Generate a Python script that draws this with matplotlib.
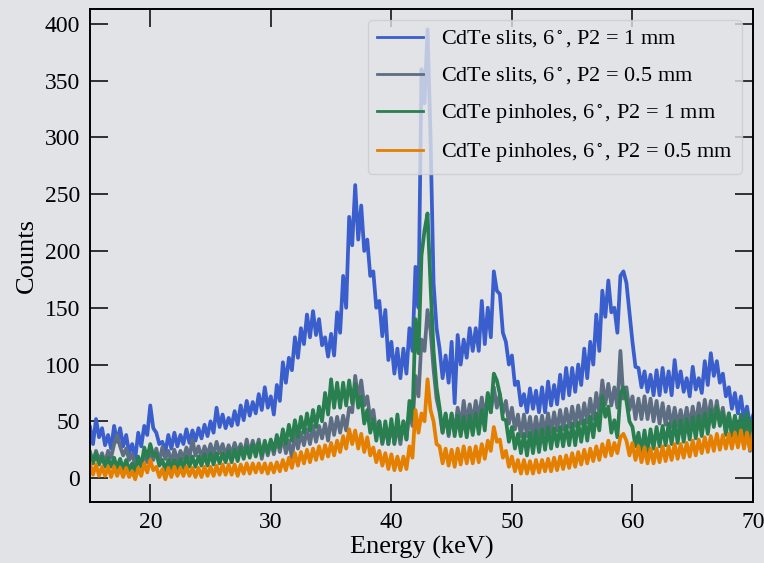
import matplotlib
matplotlib.use("Agg")
import matplotlib.pyplot as plt
import numpy as np

# channel grid (keV), 0.25 keV bins
energy = np.arange(15.0, 70.001, 0.25)

slits_1mm = [
    45, 30, 52, 36, 44, 29, 38, 26, 46, 32, 44, 28, 38, 22, 30, 17, 40, 28, 46, 38,
    64, 44, 40, 30, 32, 23, 38, 26, 40, 28, 38, 30, 43, 31, 42, 33, 44, 35, 47, 37,
    50, 40, 62, 45, 56, 44, 53, 46, 59, 47, 64, 51, 68, 55, 67, 57, 74, 60, 80, 62,
    72, 56, 82, 68, 102, 84, 106, 95, 124, 106, 132, 118, 144, 124, 147, 126, 140, 117, 124, 107,
    127, 108, 146, 128, 178, 150, 230, 205, 258, 210, 240, 200, 210, 178, 182, 150, 156, 125, 148, 104,
    120, 92, 114, 88, 114, 92, 132, 112, 186, 150, 360, 330, 395, 300, 172, 132, 114, 88, 108, 84,
    120, 66, 126, 100, 122, 106, 132, 112, 132, 112, 156, 118, 150, 124, 182, 165, 162, 128, 120, 100,
    108, 82, 85, 64, 74, 58, 79, 61, 77, 58, 80, 58, 85, 64, 82, 65, 91, 70, 97, 73,
    97, 76, 100, 82, 114, 88, 120, 100, 144, 112, 165, 142, 174, 146, 150, 128, 178, 182, 172, 146,
    120, 98, 97, 80, 94, 76, 91, 73, 95, 73, 97, 76, 94, 73, 104, 80, 94, 76, 88, 72,
    98, 78, 88, 75, 103, 82, 110, 90, 103, 84, 92, 72, 80, 61, 75, 57, 72, 52, 63, 46,
    55,
]

slits_05mm = [
    22, 14, 24, 15, 22, 13, 24, 18, 30, 38, 28, 20, 26, 16, 21, 12, 18, 11, 21, 14,
    24, 16, 26, 14, 27, 17, 24, 14, 25, 15, 24, 17, 27, 18, 34, 20, 28, 18, 28, 20,
    30, 20, 32, 22, 30, 20, 29, 21, 31, 22, 30, 20, 34, 21, 33, 23, 34, 17, 31, 20,
    33, 21, 35, 23, 37, 22, 33, 18, 39, 26, 40, 29, 43, 30, 46, 32, 46, 35, 48, 33,
    53, 38, 54, 40, 55, 42, 62, 58, 90, 70, 86, 64, 72, 52, 60, 40, 50, 30, 46, 30,
    48, 31, 46, 30, 50, 34, 60, 46, 90, 72, 122, 112, 148, 130, 96, 70, 58, 40, 56, 37,
    56, 40, 62, 46, 68, 49, 65, 49, 68, 52, 71, 53, 74, 58, 80, 62, 74, 57, 68, 48,
    62, 43, 56, 37, 56, 37, 54, 36, 54, 37, 55, 39, 57, 40, 58, 42, 60, 43, 61, 45,
    63, 46, 64, 48, 66, 49, 70, 52, 75, 56, 86, 65, 83, 64, 80, 62, 112, 70, 80, 60,
    72, 52, 70, 52, 72, 52, 70, 50, 68, 48, 66, 47, 63, 45, 62, 46, 60, 45, 62, 46,
    63, 47, 66, 50, 69, 51, 68, 50, 68, 49, 62, 44, 57, 39, 54, 34, 51, 28, 48, 24,
    44,
]

pinholes_1mm = [
    23, 13, 22, 12, 19, 10, 18, 10, 18, 9, 17, 8, 16, 7, 13, 4, 19, 10, 27, 18,
    30, 20, 22, 11, 16, 7, 16, 7, 16, 8, 17, 9, 19, 10, 19, 10, 19, 11, 21, 11,
    22, 12, 22, 13, 22, 14, 24, 14, 25, 15, 27, 17, 28, 18, 30, 19, 31, 20, 33, 22,
    34, 24, 38, 27, 43, 30, 47, 33, 51, 36, 54, 40, 57, 42, 60, 45, 63, 50, 75, 56,
    87, 62, 84, 62, 84, 64, 86, 66, 83, 62, 72, 48, 60, 40, 52, 33, 50, 31, 50, 30,
    52, 30, 56, 34, 50, 34, 68, 52, 140, 110, 196, 218, 233, 170, 112, 80, 62, 40, 57, 39,
    57, 37, 55, 37, 54, 36, 55, 38, 57, 39, 60, 42, 75, 58, 92, 86, 74, 52, 51, 32,
    45, 26, 39, 22, 39, 20, 40, 22, 42, 23, 43, 25, 45, 26, 44, 28, 45, 28, 46, 29,
    48, 29, 49, 32, 51, 33, 54, 36, 57, 42, 72, 54, 63, 40, 51, 36, 74, 80, 68, 50,
    45, 28, 40, 22, 42, 23, 43, 26, 45, 28, 46, 29, 48, 30, 50, 31, 51, 32, 52, 34,
    54, 35, 55, 37, 57, 39, 60, 45, 63, 46, 58, 38, 57, 37, 55, 38, 56, 39, 57, 40,
    52,
]

pinholes_05mm = [
    13, 3, 12, 2, 10, 2, 10, 1, 10, 2, 9, 1, 9, 1, 6, -1, 9, 2, 13, 5,
    16, 7, 10, 1, 8, -1, 9, 1, 10, 2, 9, 2, 10, 2, 9, 1, 9, 1, 10, 2,
    10, 2, 11, 3, 12, 3, 12, 3, 12, 2, 12, 4, 13, 4, 13, 5, 13, 5, 13, 4,
    13, 5, 14, 6, 16, 7, 18, 9, 22, 11, 23, 13, 25, 14, 26, 16, 28, 17, 29, 19,
    31, 20, 33, 23, 37, 26, 43, 30, 42, 26, 39, 23, 36, 20, 27, 14, 24, 11, 22, 8,
    21, 7, 19, 7, 19, 8, 28, 18, 60, 40, 57, 50, 87, 60, 50, 30, 28, 13, 26, 11,
    25, 10, 26, 12, 28, 13, 27, 13, 28, 14, 30, 17, 33, 24, 45, 32, 34, 18, 24, 10,
    19, 6, 16, 4, 16, 4, 15, 4, 16, 5, 16, 6, 17, 6, 18, 7, 19, 8, 20, 9,
    22, 10, 23, 12, 25, 13, 26, 15, 28, 16, 30, 19, 33, 20, 31, 22, 36, 39, 33, 20,
    31, 16, 28, 14, 27, 13, 26, 13, 26, 14, 28, 15, 28, 16, 30, 17, 30, 18, 31, 19,
    33, 20, 34, 22, 36, 23, 37, 24, 39, 25, 38, 26, 39, 26, 40, 27, 42, 26, 40, 25,
    39,
]

labels = [
    r"CdTe slits, 6$^\circ$, P2 = 1 mm",
    r"CdTe slits, 6$^\circ$, P2 = 0.5 mm",
    r"CdTe pinholes, 6$^\circ$, P2 = 1 mm",
    r"CdTe pinholes, 6$^\circ$, P2 = 0.5 mm",
]
colors = ["#3a5fcd", "#5e6e82", "#2a7f50", "#e57f00"]

plt.rcParams["font.family"] = ["Liberation Serif", "DejaVu Serif"]
plt.rcParams["mathtext.fontset"] = "stix"
bg = "#e1e3e7"

fig = plt.figure(figsize=(7.64, 5.63), dpi=100, facecolor=bg)
ax = fig.add_axes([90 / 764, 1 - 502 / 563, (753 - 90) / 764, (502 - 9) / 563])
ax.set_facecolor(bg)

for y, lab, c in zip([slits_1mm, slits_05mm, pinholes_1mm, pinholes_05mm], labels, colors):
    ax.plot(energy, y, color=c, lw=2.7, label=lab)

ax.set_xlim(15, 70)
ax.set_ylim(-21, 413)
ax.set_xticks([20, 30, 40, 50, 60, 70])
ax.set_yticks(np.arange(0, 401, 50))
ax.tick_params(direction="in", top=True, right=True, length=13, width=1.1,
               labelsize=17, pad=7)
for s in ax.spines.values():
    s.set_linewidth(1.4)

ax.set_xlabel("Energy (keV)", fontsize=19, labelpad=2)
ax.set_ylabel("Counts", fontsize=19, labelpad=5)
leg = ax.legend(loc="upper right", fontsize=16, facecolor=bg, framealpha=0.8,
                handlelength=2.1, labelspacing=0.7)
for ln in leg.get_lines():
    ln.set_linewidth(2.0)

fig.savefig("out.png", dpi=100, facecolor=bg)
